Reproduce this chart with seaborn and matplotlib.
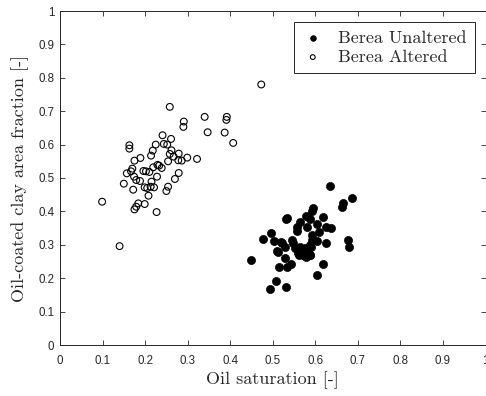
import numpy as np
import pandas as pd
import seaborn as sns
import matplotlib.pyplot as plt

# Berea Unaltered (filled markers)
unaltered_so = [0.635, 0.687, 0.664, 0.663, 0.595, 0.592, 0.534, 0.577, 0.587, 0.617,
                0.565, 0.604, 0.624, 0.637, 0.557, 0.558, 0.581, 0.608, 0.592, 0.495,
                0.476, 0.502, 0.545, 0.520, 0.603, 0.626, 0.676, 0.679, 0.528, 0.511,
                0.556, 0.563, 0.571, 0.583, 0.587, 0.575, 0.562, 0.587, 0.592, 0.528,
                0.515, 0.534, 0.544, 0.618, 0.603, 0.507, 0.493, 0.530, 0.548, 0.449,
                0.521, 0.512, 0.532, 0.559, 0.567, 0.575, 0.583, 0.571, 0.587, 0.559,
                0.579, 0.591, 0.552, 0.563]
unaltered_frac = [0.477, 0.440, 0.424, 0.412, 0.410, 0.401, 0.379, 0.387, 0.377, 0.382,
                  0.368, 0.363, 0.354, 0.350, 0.354, 0.342, 0.354, 0.337, 0.330, 0.334,
                  0.316, 0.312, 0.313, 0.307, 0.311, 0.306, 0.314, 0.292, 0.292, 0.281,
                  0.289, 0.279, 0.284, 0.289, 0.269, 0.269, 0.269, 0.299, 0.314, 0.260,
                  0.234, 0.234, 0.242, 0.242, 0.211, 0.193, 0.167, 0.174, 0.304, 0.254,
                  0.306, 0.279, 0.378, 0.284, 0.279, 0.289, 0.279, 0.269, 0.269, 0.274,
                  0.264, 0.294, 0.289, 0.294]

# Berea Altered (open markers)
altered_so = [0.473, 0.258, 0.340, 0.392, 0.391, 0.291, 0.290, 0.347, 0.387, 0.407,
              0.241, 0.261, 0.225, 0.244, 0.252, 0.163, 0.163, 0.218, 0.262, 0.214,
              0.258, 0.279, 0.267, 0.189, 0.299, 0.175, 0.278, 0.286, 0.254, 0.322,
              0.229, 0.219, 0.239, 0.170, 0.167, 0.196, 0.202, 0.210, 0.157, 0.279,
              0.174, 0.228, 0.179, 0.188, 0.270, 0.215, 0.150, 0.199, 0.205, 0.213,
              0.221, 0.254, 0.172, 0.250, 0.208, 0.099, 0.184, 0.199, 0.179, 0.175,
              0.227, 0.140, 0.233]
altered_frac = [0.780, 0.713, 0.683, 0.683, 0.674, 0.669, 0.653, 0.637, 0.636, 0.605,
                0.628, 0.617, 0.600, 0.602, 0.600, 0.598, 0.588, 0.582, 0.583, 0.567,
                0.572, 0.573, 0.564, 0.560, 0.561, 0.552, 0.553, 0.552, 0.550, 0.557,
                0.539, 0.532, 0.530, 0.528, 0.520, 0.521, 0.520, 0.518, 0.514, 0.515,
                0.504, 0.504, 0.494, 0.491, 0.497, 0.489, 0.483, 0.472, 0.470, 0.474,
                0.472, 0.474, 0.465, 0.461, 0.447, 0.429, 0.424, 0.422, 0.414, 0.406,
                0.398, 0.296, 0.537]

ticks = np.round(np.arange(0, 1.01, 0.1), 1)
tick_labels = ['0', '0.1', '0.2', '0.3', '0.4', '0.5', '0.6', '0.7', '0.8', '0.9', '1']

df_un = pd.DataFrame({'so': unaltered_so, 'frac': unaltered_frac})
df_al = pd.DataFrame({'so': altered_so, 'frac': altered_frac})

sns.set_style('ticks')
plt.rcParams['font.family'] = ['Liberation Sans', 'DejaVu Sans']
plt.rcParams['xtick.direction'] = 'in'
plt.rcParams['ytick.direction'] = 'in'

fig = plt.figure(figsize=(4.86, 3.96), dpi=100)
ax = fig.add_axes([60 / 486, 51 / 396, 425.5 / 486, 334 / 396])

sns.scatterplot(data=df_un, x='so', y='frac', ax=ax, color='black', s=34,
                edgecolor='black', linewidth=0.5, label='Berea Unaltered')
sns.scatterplot(data=df_al, x='so', y='frac', ax=ax, facecolor='none', s=24,
                edgecolor='black', linewidth=0.8, label='Berea Altered')

ax.set_xlim(0, 1)
ax.set_ylim(0, 1)
ax.set_xticks(ticks)
ax.set_xticklabels(tick_labels)
ax.set_yticks(ticks)
ax.set_yticklabels(tick_labels)
ax.tick_params(axis='both', which='both', top=True, right=True, length=3.5,
               width=0.6, labelsize=8.3, labelcolor='#262626')
ax.tick_params(axis='x', pad=7.5)
ax.tick_params(axis='y', pad=4)
for sp in ax.spines.values():
    sp.set_linewidth(0.7)
    sp.set_color('#262626')

ax.set_xlabel('Oil saturation [-]', family='cmr10', fontsize=13, labelpad=3)
ax.set_ylabel('Oil-coated clay area fraction [-]', family='cmr10', fontsize=13, labelpad=7)

leg = ax.legend(loc='upper right', prop={'family': 'cmr10', 'size': 13},
                frameon=True, fancybox=False, edgecolor='#262626', framealpha=1,
                borderaxespad=0.6, handlelength=1.2, handletextpad=0.8,
                markerscale=0.7, borderpad=0.45, labelspacing=0.2)
leg.get_frame().set_linewidth(0.7)

fig.savefig('out.png', dpi=100)
